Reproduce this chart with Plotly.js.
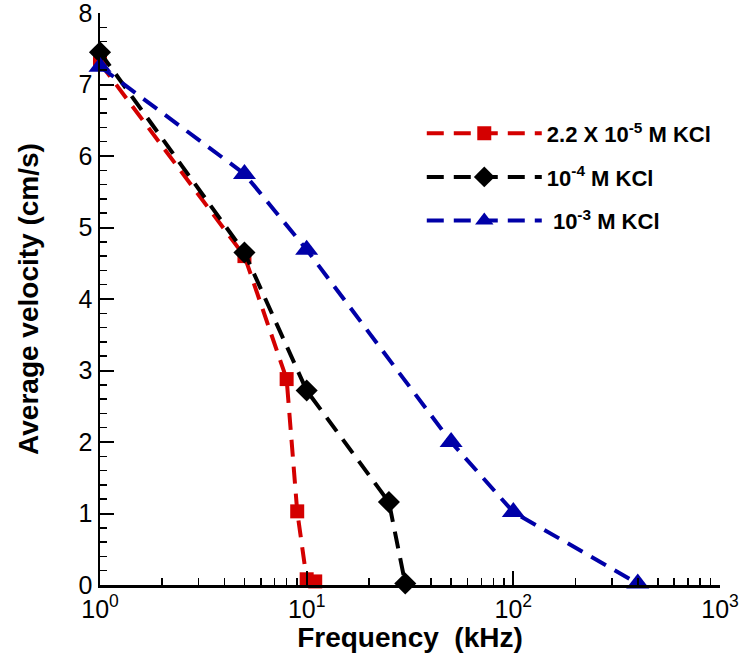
<!DOCTYPE html>
<html>
<head>
<meta charset="utf-8">
<script src="https://cdn.plot.ly/plotly-3.0.1.min.js"></script>
<style>html,body{margin:0;padding:0;background:#fff;}#chart{width:743px;height:659px;}</style>
</head>
<body>
<div id="chart"></div>
<script>
// Series: frequency (kHz) and average velocity (cm/s)
var freqA = [1, 5, 8, 9, 10, 11];
var velA  = [7.3, 4.6, 2.88, 1.03, 0.08, 0.05];
var nameA = "2.2 X 10<sup>-5</sup> M KCl";

var freqB = [1, 5, 10, 25, 30];
var velB  = [7.45, 4.65, 2.72, 1.16, 0.02];
var nameB = "10<sup>-4</sup> M KCl";

var freqC = [1, 5, 10, 50, 100, 400];
var velC  = [7.25, 5.75, 4.69, 2.0, 1.02, 0.02];
var nameC = "&nbsp;10<sup>-3</sup> M KCl";

var xTickVals = [1, 10, 100, 1000];
var xTickText = ["10<sup>0</sup>", "10<sup>1</sup>", "10<sup>2</sup>", "10<sup>3</sup>"];
var yTickVals = [0, 1, 2, 3, 4, 5, 6, 7, 8];
var yTickText = ["0", "1", "2", "3", "4", "5", "6", "7", "8"];

var FONT = "Liberation Sans, Arial, sans-serif";

function tr(x, y, name, color, symbol, size, grp) {
  return {
    x: x, y: y, name: name, type: "scatter", mode: "lines+markers",
    legendgroup: grp, cliponaxis: false, hoverinfo: "skip",
    line: {color: color, width: 4, dash: "17px,10px"},
    marker: {color: color, symbol: symbol, size: size}
  };
}

var data = [
  tr(freqA, velA, nameA, "#d40000", "square", 14, "a"),
  tr(freqB, velB, nameB, "#000000", "diamond", 17, "b"),
  tr(freqC, velC, nameC, "#0000a8", "triangle-up", 20, "c")
];

var layout = {
  width: 743, height: 659,
  margin: {l: 100, r: 23, t: 13, b: 74},
  paper_bgcolor: "#fff", plot_bgcolor: "#fff",
  font: {family: FONT, color: "#000"},
  showlegend: true,
  legend: {
    x: 0.519, y: 0.826, xanchor: "left", yanchor: "top",
    bgcolor: "rgba(0,0,0,0)", borderwidth: 0,
    itemwidth: 115, tracegroupgap: 12,
    font: {family: FONT, size: 22, color: "#000", weight: "bold"}
  },
  xaxis: {
    type: "log", range: [0, 3],
    tickmode: "array", tickvals: xTickVals, ticktext: xTickText,
    ticks: "inside", ticklen: 14, tickwidth: 2, tickcolor: "#000",
    minor: {dtick: "D1", ticks: "inside", ticklen: 7, tickwidth: 1.5, tickcolor: "#000"},
    showline: true, linewidth: 2.5, linecolor: "#000",
    showgrid: false, zeroline: false, ticklabeloverflow: "allow",
    tickfont: {family: FONT, size: 25, color: "#000"},
    title: {text: "Frequency&nbsp;&nbsp;(kHz)", font: {family: FONT, size: 28, color: "#000", weight: "bold"}, standoff: 4}
  },
  yaxis: {
    range: [0, 8],
    tickmode: "array", tickvals: yTickVals, ticktext: yTickText,
    ticks: "inside", ticklen: 14, tickwidth: 2, tickcolor: "#000",
    minor: {tickmode: "linear", tick0: 0, dtick: 0.2, ticks: "inside", ticklen: 7, tickwidth: 1.5, tickcolor: "#000"},
    showline: true, linewidth: 2.5, linecolor: "#000",
    showgrid: false, zeroline: false, ticklabeloverflow: "allow",
    tickfont: {family: FONT, size: 25, color: "#000"},
    title: {text: "Average velocity (cm/s)", font: {family: FONT, size: 28, color: "#000", weight: "bold"}, standoff: 32}
  }
};

Plotly.newPlot("chart", data, layout, {staticPlot: true, displayModeBar: false});
</script>
</body>
</html>
